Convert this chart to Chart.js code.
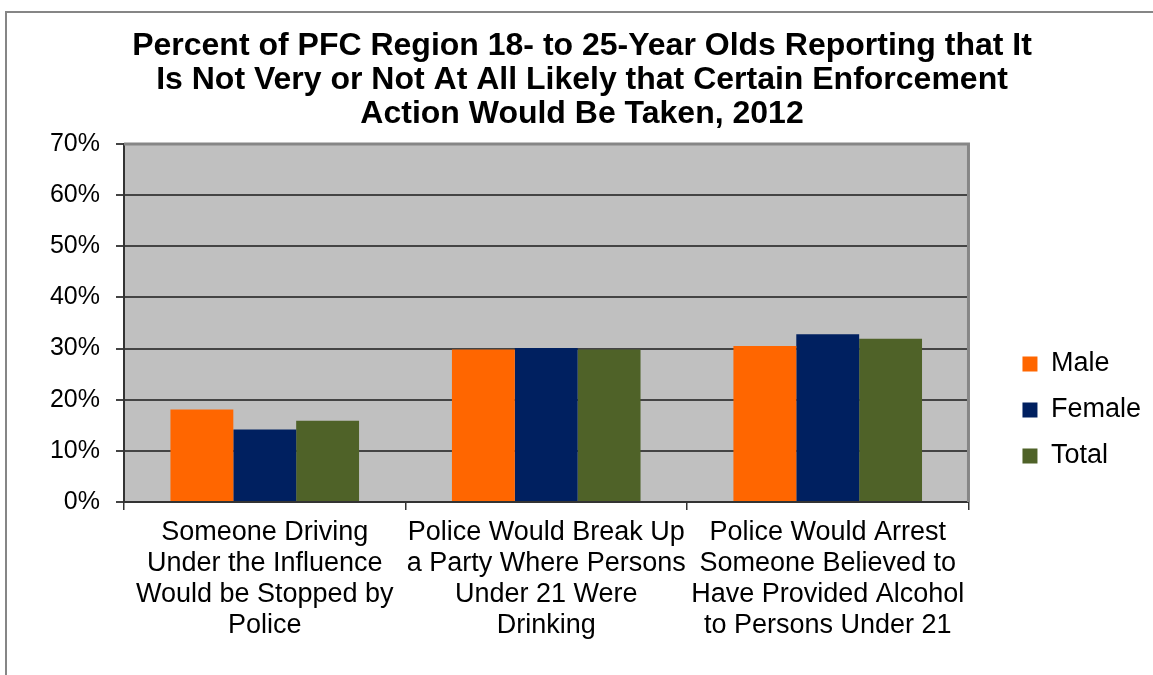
<!DOCTYPE html>
<html>
<head>
<meta charset="utf-8">
<script src="https://cdn.jsdelivr.net/npm/chart.js@4.4.1/dist/chart.umd.min.js"></script>
<style>
    html, body { margin: 0; padding: 0; background: #fff; overflow: hidden; }
    .frame {
        position: absolute; left: 5px; top: 11px; width: 1160px; height: 680px;
        border-left: 2px solid #868686; border-top: 2px solid #868686;
    }
    .chart-box { position: absolute; left: 8px; top: 14px; width: 1145px; height: 661px; }
</style>
</head>
<body>
<div class="frame"></div>
<div class="chart-box"><canvas id="enforcementChart"></canvas></div>
<script>
// ---- data ----
const titleLines = [
    'Percent of PFC Region 18- to 25-Year Olds Reporting that It',
    'Is Not Very or Not At All Likely that Certain Enforcement',
    'Action Would Be Taken, 2012'
];
const categories = [
    ['Someone Driving', 'Under the Influence', 'Would be Stopped by', 'Police'],
    ['Police Would Break Up', 'a Party Where Persons', 'Under 21 Were', 'Drinking'],
    ['Police Would Arrest', 'Someone Believed to', 'Have Provided Alcohol', 'to Persons Under 21']
];
const seriesNames = ['Male', 'Female', 'Total'];
const maleValues = [18.1, 29.8, 30.5];
const femaleValues = [14.2, 30.1, 32.8];
const totalValues = [15.9, 29.8, 31.9];
const yTicks = [0, 10, 20, 30, 40, 50, 60, 70];

const FONT = "'Liberation Sans', Arial, sans-serif";
const colors = ['#FF6600', '#002060', '#4F6228'];

// grey plot background + grey frame on top/right of the plot
const plotArea = {
    id: 'plotArea',
    beforeDraw(chart) {
        const { ctx, chartArea: a } = chart;
        ctx.save();
        ctx.fillStyle = '#C0C0C0';
        ctx.fillRect(a.left, a.top, a.right - a.left, a.bottom - a.top);
        ctx.restore();
    },
    afterDraw(chart) {
        const { ctx, chartArea: a } = chart;
        ctx.save();
        ctx.strokeStyle = '#868686';
        ctx.lineWidth = 3;
        ctx.beginPath();
        ctx.moveTo(a.left, a.top);
        ctx.lineTo(a.right, a.top);
        ctx.lineTo(a.right, a.bottom);
        ctx.stroke();
        ctx.restore();
    }
};

const ctx = document.getElementById('enforcementChart').getContext('2d');

const chart = new Chart(ctx, {
    type: 'bar',
    data: {
        labels: categories,
        datasets: [maleValues, femaleValues, totalValues].map((vals, i) => ({
            label: seriesNames[i],
            data: vals,
            backgroundColor: colors[i],
            borderWidth: 0,
            categoryPercentage: 0.67,
            barPercentage: 1.0
        }))
    },
    options: {
        responsive: true,
        maintainAspectRatio: false,
        animation: false,
        layout: { padding: { left: 5, right: 2, top: 0, bottom: 27 } },
        plugins: {
            title: {
                display: true,
                text: titleLines,
                color: '#000',
                font: { family: FONT, size: 32, weight: 'bold', lineHeight: '34px' },
                padding: { top: 15, bottom: 13 }
            },
            legend: {
                position: 'right',
                align: 'center',
                title: {
                    display: true,
                    text: ' ',
                    color: 'rgba(0,0,0,0)',
                    font: { size: 1, lineHeight: 1 },
                    padding: { top: 157, bottom: 0 }
                },
                labels: {
                    color: '#000',
                    font: { family: FONT, size: 27 },
                    boxWidth: 15,
                    boxHeight: 15,
                    padding: 19
                }
            },
            tooltip: { enabled: false }
        },
        scales: {
            x: {
                grid: { drawOnChartArea: false, drawTicks: true, tickLength: 8, color: '#333', lineWidth: 1.5 },
                border: { color: '#333', width: 2 },
                ticks: {
                    color: '#000',
                    font: { family: FONT, size: 27, lineHeight: '31px' },
                    maxRotation: 0,
                    autoSkip: false,
                    padding: 7
                }
            },
            y: {
                min: 0,
                max: 70,
                afterBuildTicks(scale) {
                    scale.ticks = yTicks.map(v => ({ value: v }));
                },
                afterFit(scale) { scale.width = 111; },
                grid: { color: '#444', lineWidth: 2, drawTicks: true, tickLength: 8 },
                border: { color: '#333', width: 2 },
                ticks: {
                    color: '#000',
                    font: { family: FONT, size: 25 },
                    padding: 16,
                    callback: v => v + '%'
                }
            },
            gap: {
                position: 'right',
                display: true,
                grid: { display: false },
                border: { display: false },
                ticks: { display: false },
                afterFit(scale) { scale.width = 35; }
            }
        }
    },
    plugins: [plotArea]
});
</script>
</body>
</html>
